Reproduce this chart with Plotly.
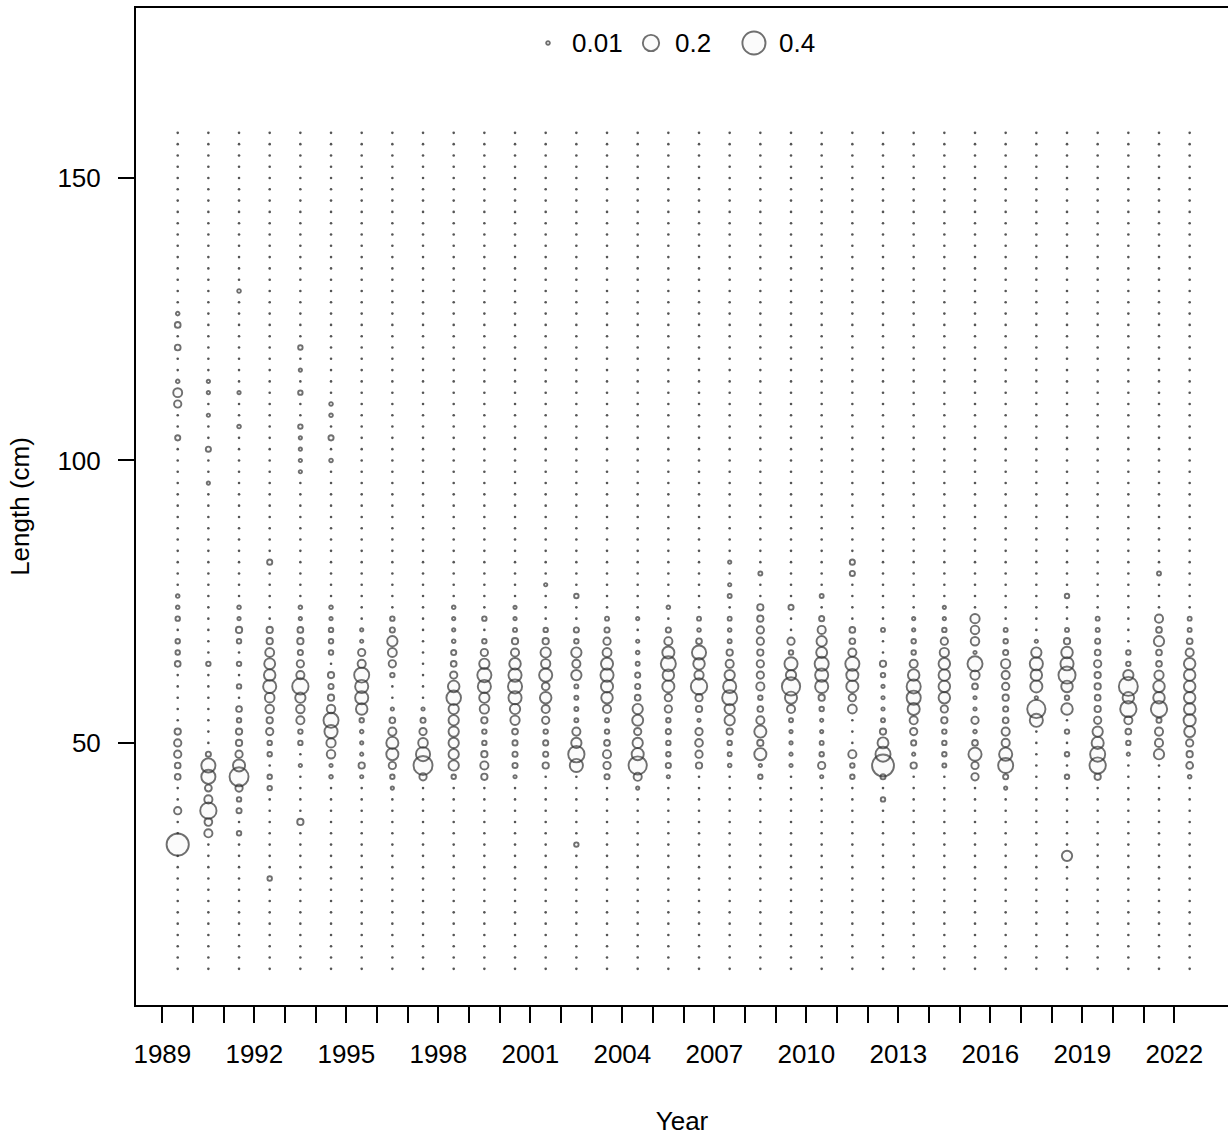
import plotly.graph_objects as go

years = [1989, 1990, 1991, 1992, 1993, 1994, 1995, 1996, 1997, 1998, 1999, 2000,
         2001, 2002, 2003, 2004, 2005, 2006, 2007, 2008, 2009, 2010, 2011, 2012,
         2013, 2014, 2015, 2016, 2017, 2018, 2019, 2020, 2021, 2022]
year_labels = ["1989", "", "", "1992", "", "", "1995", "", "", "1998", "", "", "2001", "", "",
               "2004", "", "", "2007", "", "", "2010", "", "", "2013", "", "", "2016", "", "",
               "2019", "", "", "2022"]
lengths = [10, 12, 14, 16, 18, 20, 22, 24, 26, 28, 30, 32, 34, 36, 38, 40, 42, 44, 46, 48,
           50, 52, 54, 56, 58, 60, 62, 64, 66, 68, 70, 72, 74, 76, 78, 80, 82, 84, 86, 88,
           90, 92, 94, 96, 98, 100, 102, 104, 106, 108, 110, 112, 114, 116, 118, 120, 122,
           124, 126, 128, 130, 132, 134, 136, 138, 140, 142, 144, 146, 148, 150, 152, 154,
           156, 158]

# non-zero proportions by length bin (all other bins are zero)
p1989 = {126: 0.01, 124: 0.025, 120: 0.025, 114: 0.01, 112: 0.06, 110: 0.04, 104: 0.02, 76: 0.01,
         74: 0.01, 72: 0.015, 68: 0.015, 66: 0.015, 64: 0.025, 52: 0.03, 50: 0.04, 48: 0.04,
         46: 0.025, 44: 0.025, 38: 0.04, 32: 0.37}
p1990 = {114: 0.008, 112: 0.008, 108: 0.008, 102: 0.02, 96: 0.008, 64: 0.015, 48: 0.02, 46: 0.15,
         44: 0.15, 42: 0.035, 40: 0.05, 38: 0.2, 36: 0.045, 34: 0.05}
p1991 = {130: 0.01, 112: 0.008, 106: 0.01, 74: 0.01, 72: 0.008, 70: 0.03, 68: 0.015, 64: 0.015,
         60: 0.015, 56: 0.025, 54: 0.015, 52: 0.03, 50: 0.03, 48: 0.04, 46: 0.11, 44: 0.27,
         42: 0.04, 40: 0.015, 38: 0.02, 34: 0.015}
p1992 = {82: 0.02, 70: 0.03, 68: 0.03, 66: 0.06, 64: 0.09, 62: 0.1, 60: 0.13, 58: 0.07, 56: 0.055,
         54: 0.03, 52: 0.04, 50: 0.015, 48: 0.015, 44: 0.015, 42: 0.015, 26: 0.015}
p1993 = {120: 0.015, 116: 0.008, 112: 0.015, 106: 0.015, 104: 0.008, 102: 0.008, 100: 0.008,
         98: 0.008, 74: 0.01, 72: 0.008, 70: 0.025, 68: 0.03, 66: 0.02, 64: 0.04, 62: 0.05,
         60: 0.2, 58: 0.08, 56: 0.055, 54: 0.05, 52: 0.015, 50: 0.015, 46: 0.008, 36: 0.03}
p1994 = {110: 0.01, 108: 0.01, 104: 0.02, 100: 0.01, 74: 0.01, 72: 0.008, 70: 0.015, 68: 0.015,
         66: 0.015, 62: 0.03, 60: 0.02, 58: 0.03, 56: 0.055, 54: 0.17, 52: 0.13, 50: 0.065,
         48: 0.055, 46: 0.008, 44: 0.01}
p1995 = {70: 0.008, 68: 0.008, 66: 0.04, 64: 0.05, 62: 0.17, 60: 0.13, 58: 0.13, 56: 0.1,
         54: 0.015, 52: 0.01, 50: 0.008, 48: 0.008, 46: 0.03, 44: 0.008}
p1996 = {72: 0.015, 70: 0.02, 68: 0.08, 66: 0.06, 64: 0.04, 62: 0.015, 56: 0.008, 54: 0.025,
         52: 0.05, 50: 0.11, 48: 0.11, 46: 0.04, 44: 0.015, 42: 0.008}
p1997 = {56: 0.008, 54: 0.02, 52: 0.04, 50: 0.07, 48: 0.15, 46: 0.27, 44: 0.04}
p1998 = {74: 0.01, 72: 0.008, 70: 0.008, 68: 0.01, 66: 0.02, 64: 0.025, 62: 0.04, 60: 0.1,
         58: 0.16, 56: 0.08, 54: 0.08, 52: 0.08, 50: 0.08, 48: 0.08, 46: 0.08, 44: 0.015}
p1999 = {72: 0.015, 68: 0.015, 66: 0.04, 64: 0.08, 62: 0.15, 60: 0.13, 58: 0.08, 56: 0.065,
         54: 0.03, 52: 0.015, 50: 0.015, 48: 0.03, 46: 0.05, 44: 0.03}
p2000 = {74: 0.008, 72: 0.008, 70: 0.012, 68: 0.03, 66: 0.05, 64: 0.1, 62: 0.13, 60: 0.15,
         58: 0.13, 56: 0.08, 54: 0.065, 52: 0.025, 50: 0.02, 48: 0.02, 46: 0.02, 44: 0.008}
p2001 = {78: 0.008, 70: 0.015, 68: 0.03, 66: 0.08, 64: 0.065, 62: 0.13, 60: 0.045, 58: 0.1,
         56: 0.05, 54: 0.04, 52: 0.015, 50: 0.02, 48: 0.02, 46: 0.03}
p2002 = {76: 0.015, 70: 0.02, 68: 0.015, 66: 0.08, 64: 0.05, 62: 0.08, 60: 0.012, 58: 0.012,
         56: 0.012, 54: 0.012, 52: 0.05, 50: 0.08, 48: 0.2, 46: 0.13, 32: 0.015}
p2003 = {72: 0.012, 70: 0.02, 68: 0.04, 66: 0.06, 64: 0.11, 62: 0.13, 60: 0.11, 58: 0.1,
         56: 0.05, 54: 0.012, 52: 0.015, 50: 0.025, 48: 0.05, 46: 0.04, 44: 0.02}
p2004 = {72: 0.008, 68: 0.008, 66: 0.01, 64: 0.012, 62: 0.02, 60: 0.02, 58: 0.025, 56: 0.08,
         54: 0.09, 52: 0.04, 50: 0.08, 48: 0.11, 46: 0.25, 44: 0.05, 42: 0.008}
p2005 = {74: 0.01, 70: 0.02, 68: 0.05, 66: 0.11, 64: 0.17, 62: 0.1, 60: 0.11, 58: 0.04,
         56: 0.04, 54: 0.015, 52: 0.02, 50: 0.015, 48: 0.015, 46: 0.02, 44: 0.008}
p2006 = {72: 0.012, 70: 0.01, 68: 0.025, 66: 0.15, 64: 0.1, 62: 0.065, 60: 0.2, 58: 0.04,
         56: 0.03, 54: 0.008, 52: 0.04, 50: 0.045, 48: 0.04, 46: 0.03}
p2007 = {82: 0.008, 78: 0.008, 76: 0.012, 72: 0.012, 70: 0.01, 68: 0.012, 66: 0.03, 64: 0.05,
         62: 0.08, 60: 0.13, 58: 0.17, 56: 0.08, 54: 0.08, 52: 0.03, 50: 0.015, 48: 0.012,
         46: 0.01}
p2008 = {80: 0.012, 74: 0.03, 72: 0.03, 70: 0.04, 68: 0.04, 66: 0.03, 64: 0.04, 62: 0.04,
         60: 0.05, 58: 0.015, 56: 0.025, 54: 0.05, 52: 0.11, 50: 0.03, 48: 0.11, 46: 0.008,
         44: 0.015}
p2009 = {74: 0.02, 68: 0.04, 66: 0.015, 64: 0.13, 62: 0.08, 60: 0.25, 58: 0.11, 56: 0.05,
         54: 0.012, 52: 0.008, 50: 0.008, 48: 0.008, 46: 0.008}
p2010 = {76: 0.012, 72: 0.02, 70: 0.05, 68: 0.08, 66: 0.09, 64: 0.15, 62: 0.13, 60: 0.13,
         58: 0.03, 56: 0.015, 54: 0.008, 52: 0.008, 50: 0.012, 48: 0.015, 46: 0.04, 44: 0.008}
p2011 = {82: 0.02, 80: 0.02, 70: 0.025, 68: 0.025, 66: 0.05, 64: 0.15, 62: 0.11, 60: 0.11,
         58: 0.04, 56: 0.06, 48: 0.05, 46: 0.015, 44: 0.015}
p2012 = {70: 0.012, 64: 0.03, 62: 0.015, 60: 0.008, 58: 0.008, 56: 0.008, 54: 0.012, 52: 0.03,
         50: 0.09, 48: 0.17, 46: 0.36, 44: 0.02, 40: 0.015}
p2013 = {72: 0.008, 70: 0.008, 68: 0.015, 66: 0.015, 64: 0.05, 62: 0.1, 60: 0.15, 58: 0.15,
         56: 0.11, 54: 0.05, 52: 0.04, 50: 0.02, 48: 0.008, 46: 0.03}
p2014 = {74: 0.008, 72: 0.008, 70: 0.015, 68: 0.04, 66: 0.065, 64: 0.1, 62: 0.1, 60: 0.1,
         58: 0.1, 56: 0.04, 54: 0.03, 52: 0.015, 50: 0.015, 48: 0.015, 46: 0.012}
p2015 = {72: 0.065, 70: 0.055, 68: 0.055, 66: 0.008, 64: 0.17, 62: 0.065, 60: 0.025, 58: 0.008,
         56: 0.008, 54: 0.04, 52: 0.01, 50: 0.025, 48: 0.13, 46: 0.04, 44: 0.04}
p2016 = {70: 0.012, 68: 0.015, 66: 0.02, 64: 0.065, 62: 0.05, 60: 0.04, 58: 0.03, 56: 0.02,
         54: 0.025, 52: 0.05, 50: 0.05, 48: 0.13, 46: 0.17, 44: 0.02, 42: 0.008}
p2017 = {68: 0.008, 66: 0.08, 64: 0.13, 62: 0.1, 60: 0.11, 58: 0.008, 56: 0.25, 54: 0.13}
p2018 = {76: 0.015, 70: 0.012, 68: 0.03, 66: 0.1, 64: 0.13, 62: 0.22, 60: 0.1, 58: 0.015,
         56: 0.1, 52: 0.015, 48: 0.015, 44: 0.015, 30: 0.08}
p2019 = {72: 0.012, 70: 0.012, 68: 0.02, 66: 0.025, 64: 0.04, 62: 0.03, 60: 0.03, 58: 0.025,
         56: 0.03, 54: 0.04, 52: 0.08, 50: 0.11, 48: 0.17, 46: 0.2, 44: 0.03}
p2020 = {66: 0.015, 64: 0.015, 62: 0.08, 60: 0.27, 58: 0.1, 56: 0.2, 54: 0.05, 52: 0.025,
         50: 0.015, 48: 0.008}
p2021 = {80: 0.012, 72: 0.05, 70: 0.025, 68: 0.08, 66: 0.025, 64: 0.025, 62: 0.065, 60: 0.1,
         58: 0.1, 56: 0.2, 54: 0.02, 52: 0.05, 50: 0.05, 48: 0.08}
p2022 = {72: 0.012, 70: 0.012, 68: 0.025, 66: 0.05, 64: 0.1, 62: 0.1, 60: 0.1, 58: 0.1,
         56: 0.1, 54: 0.11, 52: 0.09, 50: 0.04, 48: 0.03, 46: 0.035, 44: 0.01}

props = [p1989, p1990, p1991, p1992, p1993, p1994, p1995, p1996, p1997, p1998, p1999, p2000,
         p2001, p2002, p2003, p2004, p2005, p2006, p2007, p2008, p2009, p2010, p2011, p2012,
         p2013, p2014, p2015, p2016, p2017, p2018, p2019, p2020, p2021, p2022]

legend_vals = [0.01, 0.2, 0.4]
legend_text = ["0.01", "0.2", "0.4"]

SIZEREF = 0.0015
LINE_COL = "#333333"
FILL_COL = "rgba(210,210,210,0.12)"
FONT = "Liberation Sans, Arial, sans-serif"
FS = 26

bx, by, bv, zx, zy = [], [], [], [], []
for yr, p in zip(years, props):
    for L in lengths:
        v = p.get(L, 0)
        if v > 0:
            bx.append(yr + 0.5); by.append(L); bv.append(v)
        else:
            zx.append(yr + 0.5); zy.append(L)

fig = go.Figure()
fig.add_trace(go.Scatter(x=zx, y=zy, mode="markers", hoverinfo="skip", showlegend=False,
                         marker=dict(size=2.6, color="#555555", line=dict(width=0))))
fig.add_trace(go.Scatter(x=bx, y=by, mode="markers", showlegend=False,
                         marker=dict(size=bv, sizemode="area", sizeref=SIZEREF,
                                     color=FILL_COL,
                                     line=dict(color=LINE_COL, width=1.9))))

# legend drawn inside the plot area, using the same size scale
leg_x = [0.3773, 0.4716, 0.5659]
leg_y = 0.9649
fig.add_trace(go.Scatter(x=leg_x, y=[leg_y] * 3, xaxis="x2", yaxis="y2", mode="markers",
                         showlegend=False, hoverinfo="skip",
                         marker=dict(size=legend_vals, sizemode="area", sizeref=SIZEREF,
                                     color=FILL_COL,
                                     line=dict(color=LINE_COL, width=1.9))))
text_x = [0.3975, 0.4920, 0.5870]
for tx, t in zip(text_x, legend_text):
    fig.add_annotation(x=tx, y=leg_y, xref="x2", yref="y2", text=t, showarrow=False,
                       xanchor="left", yanchor="middle",
                       font=dict(size=FS, color="black", family=FONT))

fig.update_layout(
    width=1228, height=1136,
    margin=dict(l=136, r=0, t=8, b=131),
    paper_bgcolor="white", plot_bgcolor="white",
    font=dict(family=FONT, size=FS, color="black"),
    xaxis=dict(range=[1988.14, 2023.75], tickvals=years, ticktext=year_labels,
               ticks="outside", ticklen=16, tickwidth=1.5, tickcolor="black",
               showline=True, linewidth=2, linecolor="black", mirror=True,
               showgrid=False, zeroline=False, ticklabelstandoff=9, automargin=False,
               title=dict(text="Year", standoff=52, font=dict(size=FS))),
    yaxis=dict(range=[3.6, 180.1], tickvals=[50, 100, 150],
               ticks="outside", ticklen=16, tickwidth=1.5, tickcolor="black",
               showline=True, linewidth=2, linecolor="black", mirror=False,
               showgrid=False, zeroline=False, ticklabelstandoff=12, automargin=False,
               title=dict(text="Length (cm)", standoff=20, font=dict(size=FS))),
    xaxis2=dict(overlaying="x", range=[0, 1], visible=False),
    yaxis2=dict(overlaying="y", range=[0, 1], visible=False),
)

fig.write_html("out.html", config={"displayModeBar": False},
               post_script="document.body.style.margin='0px';")
